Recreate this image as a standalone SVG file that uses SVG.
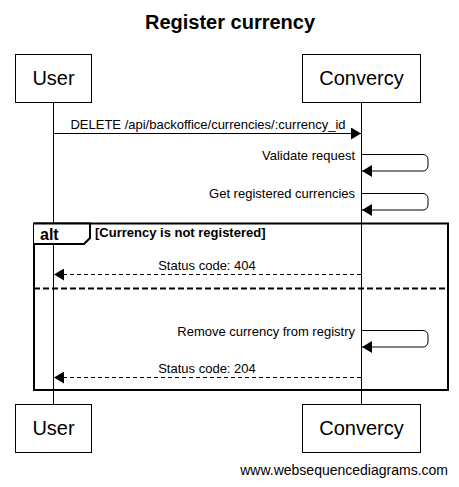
<svg xmlns="http://www.w3.org/2000/svg" width="459" height="487" viewBox="0 0 459 487">
<style>
text{font-family:"Liberation Sans",Arial,sans-serif;fill:#000}
.actor{fill:#fff;stroke:#000;stroke-width:1}
.atext{font-size:20px;text-anchor:middle}
.msg{font-size:13px}
.life{stroke:#000;stroke-width:1}
.line{stroke:#000;stroke-width:1;fill:none}
.dash{stroke-dasharray:4,3}
</style>
<defs>
<marker id="ah" markerWidth="10" markerHeight="12" refX="10" refY="6" orient="auto" markerUnits="userSpaceOnUse">
<path d="M0,0 L10,6 L0,12 z" fill="#000"/>
</marker>
</defs>
<rect width="459" height="487" fill="#fff"/>
<text x="230" y="29" font-size="20" font-weight="bold" text-anchor="middle">Register currency</text>
<g id="lifelines">
<line class="life" x1="53.5" y1="102" x2="53.5" y2="404"/>
<line class="life" x1="361.5" y1="102" x2="361.5" y2="404"/>
</g>
<g id="alt-frame">
<rect x="34" y="223.5" width="414" height="166.5" fill="none" stroke="#000" stroke-width="2"/>
<path d="M34,223.5 L90,223.5 L90,238 L84,244 L34,244" fill="#fff" stroke="#000" stroke-width="2"/>
<text x="40" y="240" font-size="16" font-weight="bold">alt</text>
<text x="95" y="237" font-size="13" font-weight="bold">[Currency is not registered]</text>
<line x1="34" y1="288.5" x2="448" y2="288.5" stroke="#000" stroke-width="2" stroke-dasharray="6,3"/>
</g>
<g id="connectors">
<line class="line" x1="53.5" y1="133.5" x2="361" y2="133.5" marker-end="url(#ah)"/>
<text class="msg" x="208" y="129" text-anchor="middle">DELETE /api/backoffice/currencies/:currency_id</text>
<path class="line" d="M361.5,154.5 H423 A5,5 0 0 1 428,159.5 V166 A5,5 0 0 1 423,171 H362" marker-end="url(#ah)"/>
<text class="msg" x="355" y="160" text-anchor="end">Validate request</text>
<path class="line" d="M361.5,193.5 H423 A5,5 0 0 1 428,198.5 V205 A5,5 0 0 1 423,210 H362" marker-end="url(#ah)"/>
<text class="msg" x="355" y="198" text-anchor="end">Get registered currencies</text>
<line class="line dash" x1="361" y1="274.5" x2="54" y2="274.5" marker-end="url(#ah)"/>
<text class="msg" x="207" y="270" text-anchor="middle">Status code: 404</text>
<path class="line" d="M361.5,330.5 H423 A5,5 0 0 1 428,335.5 V342 A5,5 0 0 1 423,347 H362" marker-end="url(#ah)"/>
<text class="msg" x="355" y="336" text-anchor="end">Remove currency from registry</text>
<line class="line dash" x1="361" y1="377.5" x2="54" y2="377.5" marker-end="url(#ah)"/>
<text class="msg" x="207" y="373" text-anchor="middle">Status code: 204</text>
</g>
<g id="user-top"><rect class="actor" x="15.5" y="54.5" width="76" height="48"/><text class="atext" x="53.5" y="85">User</text></g>
<g id="convercy-top"><rect class="actor" x="302.5" y="54.5" width="118" height="48"/><text class="atext" x="361.5" y="85">Convercy</text></g>
<g id="user-bottom"><rect class="actor" x="15.5" y="404.5" width="76" height="48"/><text class="atext" x="53.5" y="435">User</text></g>
<g id="convercy-bottom"><rect class="actor" x="302.5" y="404.5" width="118" height="48"/><text class="atext" x="361.5" y="435">Convercy</text></g>
<text x="448" y="475" font-size="14" text-anchor="end">www.websequencediagrams.com</text>
</svg>
